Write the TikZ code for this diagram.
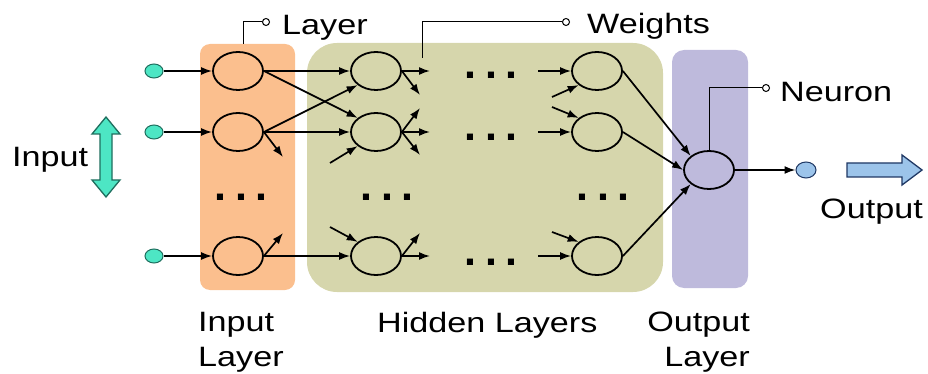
\documentclass[tikz,border=0pt]{standalone}
\usepackage{fontspec}
\setmainfont[FakeStretch=1.22]{Liberation Sans}
\newfontfamily\dotfont{Liberation Sans}
\usetikzlibrary{shapes.geometric,arrows.meta}
\definecolor{inbox}{HTML}{FBBF8E}
\definecolor{hidbox}{HTML}{D6D6AC}
\definecolor{outbox}{HTML}{BEBADC}
\definecolor{teal1}{HTML}{4DE6C4}
\definecolor{teal2}{HTML}{1F6E5E}
\definecolor{lblue}{HTML}{9CC4EA}
\definecolor{dblue}{HTML}{1F3864}
\begin{document}
\begin{tikzpicture}[x=1pt,y=-1pt,
  layerbox/.style={rectangle,inner sep=0pt,draw=none},
  neuron/.style={ellipse,draw=black,line width=1.8pt,minimum width=50pt,minimum height=38pt,inner sep=0pt},
  indot/.style={ellipse,draw=teal2,fill=teal1,line width=1pt,minimum width=18pt,minimum height=14pt,inner sep=0pt},
  outdot/.style={ellipse,draw=dblue,fill=lblue,line width=1pt,minimum width=20pt,minimum height=16pt,inner sep=0pt},
  ring/.style={circle,draw=black,fill=white,line width=1pt,minimum size=7pt,inner sep=0pt},
  conn/.style={draw=black,line width=1.7pt,-{Latex[length=11pt,width=8pt]}},
  callout/.style={draw=black,line width=1pt},
  lbl/.style={inner sep=0pt,font=\fontsize{28}{35}\selectfont},
  dotsty/.style={inner sep=0pt,font=\dotfont\bfseries\fontsize{43}{43}\selectfont},
  bigarrow/.style={line width=1.3pt,line join=miter}
]
\useasboundingbox (0,0) rectangle (928,374);

% layer boxes
\node[layerbox,fill=inbox,rounded corners=10pt,minimum width=95pt,minimum height=246pt] (inlayer) at (247.5,167) {};
\node[layerbox,fill=hidbox,rounded corners=30pt,minimum width=356pt,minimum height=249pt] (hidlayer) at (485,167.5) {};
\node[layerbox,fill=outbox,rounded corners=12pt,minimum width=76pt,minimum height=238pt] (outlayer) at (710,169) {};

% input dots
\node[indot] (x1) at (154,71) {};
\node[indot] (x2) at (154,132) {};
\node[indot] (x3) at (154,256) {};

% neurons
\node[neuron] (i1) at (238,71) {};
\node[neuron] (i2) at (238,132) {};
\node[neuron] (i3) at (238,256) {};
\node[neuron] (h1) at (376,71) {};
\node[neuron] (h2) at (376,132) {};
\node[neuron] (h3) at (376,256) {};
\node[neuron] (g1) at (597,71) {};
\node[neuron] (g2) at (597,132) {};
\node[neuron] (g3) at (597,256) {};
\node[neuron] (o) at (709,170) {};
\node[outdot] (odot) at (806,170) {};

% free ends
\coordinate (i2d) at (283,157);
\coordinate (i3u) at (283,233);
\coordinate (h1o) at (430,71);
\coordinate (h1d) at (420,95);
\coordinate (h2i) at (330,163);
\coordinate (h2u) at (420,108);
\coordinate (h2o) at (430,132);
\coordinate (h2d) at (420,155);
\coordinate (h3i) at (330,227);
\coordinate (h3u) at (420,233);
\coordinate (h3o) at (430,256);
\coordinate (g1i) at (538,71);
\coordinate (g1d) at (552,97);
\coordinate (g2d) at (552,107);
\coordinate (g2i) at (538,132);
\coordinate (g3d) at (552,232);
\coordinate (g3i) at (538,256);

% connections
\draw[conn] (x1) -- (i1);
\draw[conn] (x2) -- (i2);
\draw[conn] (x3) -- (i3);
\draw[conn] (i1) -- (h1);
\draw[conn] (i1.east) -- (h2.north west);
\draw[conn] (i2.east) -- (h1.south west);
\draw[conn] (i2) -- (h2);
\draw[conn] (i2.east) -- (i2d);
\draw[conn] (i3) -- (h3);
\draw[conn] (i3.east) -- (i3u);
\draw[conn] (h1) -- (h1o);
\draw[conn] (h1.east) -- (h1d);
\draw[conn] (h2i) -- (h2.south west);
\draw[conn] (h2.east) -- (h2u);
\draw[conn] (h2) -- (h2o);
\draw[conn] (h2.east) -- (h2d);
\draw[conn] (h3i) -- (h3.north west);
\draw[conn] (h3.east) -- (h3u);
\draw[conn] (h3) -- (h3o);
\draw[conn] (g1i) -- (g1);
\draw[conn] (g1d) -- (g1.south west);
\draw[conn] (g2d) -- (g2.north west);
\draw[conn] (g2i) -- (g2);
\draw[conn] (g3d) -- (g3.north west);
\draw[conn] (g3i) -- (g3);
\draw[conn] (g1.east) -- (o.north west);
\draw[conn] (g2.east) -- (o.west);
\draw[conn] (g3.east) -- (o.south west);
\draw[conn] (o) -- (odot);

% ellipsis dots
\node[dotsty] (d1) at (241,197) {.\hspace{9pt}.\hspace{9pt}.};
\node[dotsty] (d2) at (387,197) {.\hspace{9pt}.\hspace{9pt}.};
\node[dotsty] (d3) at (603,197) {.\hspace{9pt}.\hspace{9pt}.};
\node[dotsty] (d4) at (491,75) {.\hspace{9pt}.\hspace{9pt}.};
\node[dotsty] (d5) at (491,137) {.\hspace{9pt}.\hspace{9pt}.};
\node[dotsty] (d6) at (491,262) {.\hspace{9pt}.\hspace{9pt}.};

% callouts
\node[ring] (lring) at (266,22) {};
\coordinate (ltop) at (243,44);
\draw[callout] (lring.west) -| (ltop);
\node[lbl,anchor=base west] (tlayer) at (282,35) {Layer};

\node[ring] (wring) at (566,22) {};
\coordinate (wtop) at (422,58);
\draw[callout] (wring.west) -| (wtop);
\node[lbl,anchor=base west] (tweights) at (587,34) {Weights};

\node[ring] (nring) at (766,88) {};
\draw[callout] (nring.west) -| (o.north);
\node[lbl,anchor=base west] (tneuron) at (780,102) {Neuron};

% input / output arrows
\draw[bigarrow,draw=teal2,fill=teal1] (106,117) -- (120,134) -- (112,134) -- (112,180) -- (120,180) -- (106,197) -- (92,180) -- (100,180) -- (100,134) -- (92,134) -- cycle;
\node[lbl,anchor=base west] (tinput) at (12,167) {Input};

\draw[bigarrow,draw=dblue,fill=lblue] (847,163) -- (902,163) -- (902,155) -- (922,170) -- (902,185) -- (902,177) -- (847,177) -- cycle;
\node[lbl,anchor=base west] (toutput) at (820,218) {Output};

% layer captions
\node[lbl,anchor=north west,align=left] (tinl) at (198,312) {Input\\Layer};
\node[lbl,anchor=base west] (thid) at (377,332) {Hidden Layers};
\node[lbl,anchor=north east,align=right] (toutl) at (750,312) {Output\\Layer};
\end{tikzpicture}
\end{document}
